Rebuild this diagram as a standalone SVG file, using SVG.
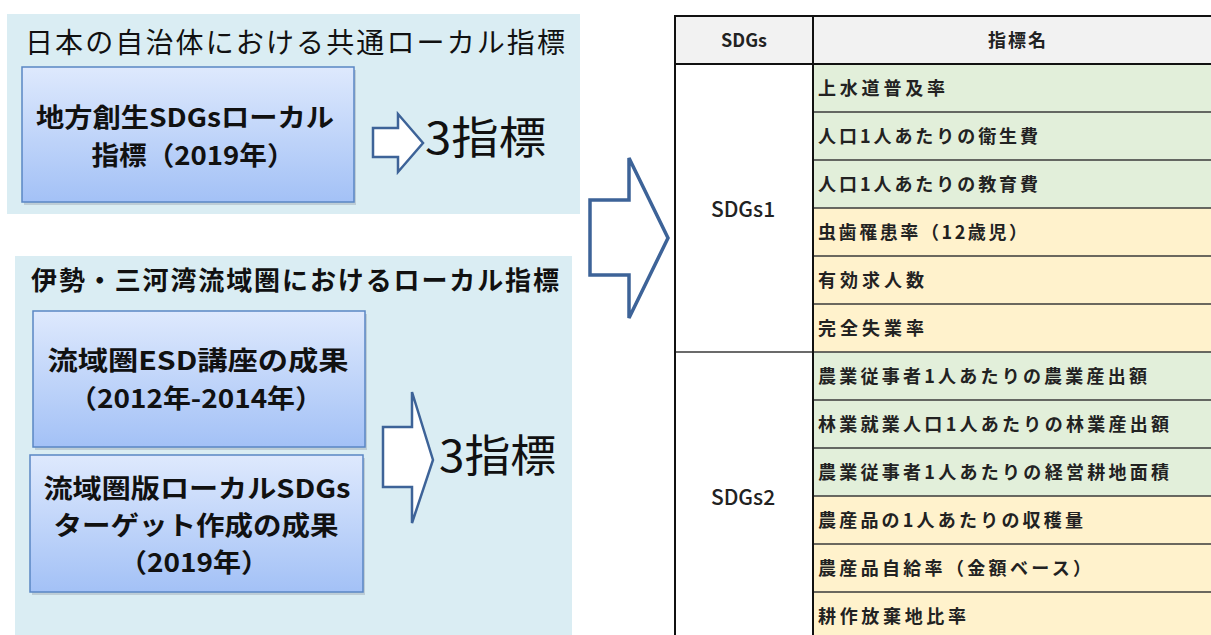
<svg xmlns="http://www.w3.org/2000/svg" width="1211" height="635" viewBox="0 0 1211 635">
<defs>
<linearGradient id="boxg" x1="0" y1="0" x2="0" y2="1">
<stop offset="0" stop-color="#DEE9FD"/>
<stop offset="1" stop-color="#A3C1F6"/>
</linearGradient>
<style>
.panel{fill:#DAEDF3}
.box{fill:url(#boxg);stroke:#5A86C4;stroke-width:1.5}
.shadow{fill:#9AA6B4;opacity:0.45}
.jp{font-family:"Noto Sans CJK JP","Noto Sans",sans-serif;fill:#111}
.bt{font-weight:700;font-size:26px;text-anchor:middle}
.big{font-size:44px;font-weight:400}
.arrow{fill:#fff;stroke:#3D6398;stroke-linejoin:miter}
.hdr{fill:#F2F2F2}
.g{fill:#E2EFDA}
.y{fill:#FFF2CC}
.cell{font-family:"Noto Sans CJK JP","Noto Sans",sans-serif;font-weight:700;font-size:18px;fill:#222}
.th{font-family:"Noto Sans CJK JP","Noto Sans",sans-serif;font-weight:700;font-size:18px;fill:#222;text-anchor:middle}
.sdg{font-family:"Noto Sans CJK JP","Noto Sans",sans-serif;font-weight:500;font-size:21px;fill:#222;text-anchor:middle}
.ln{stroke:#3a3a3a;stroke-width:1.5}
.bd{stroke:#111;stroke-width:2;fill:none}
</style>
</defs>
<rect width="1211" height="635" fill="#fff"/>

<g id="panel-top">
<rect class="panel" x="7" y="14" width="573" height="200"/>
<text class="jp" x="25" y="53" font-size="28" textLength="540" lengthAdjust="spacing">日本の自治体における共通ローカル指標</text>
</g>
<g id="box-chiho">
<rect class="shadow" x="24" y="70" width="332" height="135"/>
<rect class="box" x="22" y="67" width="332" height="135"/>
<text class="jp bt"><tspan x="185" y="127" textLength="298" lengthAdjust="spacingAndGlyphs">地方創生SDGsローカル</tspan><tspan x="193" y="165" textLength="203" lengthAdjust="spacingAndGlyphs">指標（2019年）</tspan></text>
</g>
<g id="result-top">
<text class="jp big" x="425" y="154" textLength="121" lengthAdjust="spacingAndGlyphs">3指標</text>
</g>

<g id="panel-bottom">
<rect class="panel" x="15" y="256" width="557" height="379"/>
<text class="jp" x="31" y="290" font-size="26" font-weight="700" textLength="528" lengthAdjust="spacing">伊勢・三河湾流域圏におけるローカル指標</text>
</g>
<g id="box-esd">
<rect class="shadow" x="35" y="314" width="332" height="136"/>
<rect class="box" x="33" y="311" width="332" height="136"/>
<text class="jp bt"><tspan x="198" y="370" textLength="301" lengthAdjust="spacingAndGlyphs">流域圏ESD講座の成果</tspan><tspan x="196" y="408" textLength="254" lengthAdjust="spacingAndGlyphs">（2012年-2014年）</tspan></text>
</g>
<g id="box-target">
<rect class="shadow" x="32" y="458" width="333" height="137"/>
<rect class="box" x="30" y="455" width="333" height="137"/>
<text class="jp bt"><tspan x="197" y="498" textLength="307" lengthAdjust="spacingAndGlyphs">流域圏版ローカルSDGs</tspan><tspan x="196" y="535" textLength="285" lengthAdjust="spacingAndGlyphs">ターゲット作成の成果</tspan><tspan x="194" y="572" textLength="150" lengthAdjust="spacingAndGlyphs">（2019年）</tspan></text>
</g>
<g id="result-bottom">
<text class="jp big" x="439" y="472" textLength="117" lengthAdjust="spacingAndGlyphs">3指標</text>
</g>

<g id="connectors">
<polygon class="arrow" stroke-width="2.5" points="373,128 398,128 398,114 423,143 398,172 398,157 373,157"/>
<polygon class="arrow" stroke-width="2.5" points="383,427 412,427 412,392 433,460 412,523 412,487 383,487"/>
<polygon class="arrow" stroke-width="3.5" points="590,200 629,200 629,158 668,238 629,318 629,275 590,275"/>
</g>

<g id="table">
<rect class="hdr" x="675" y="16" width="545" height="48"/>
<rect fill="#fff" x="675" y="64" width="138" height="576"/>
<rect class="g" x="813" y="64" width="407" height="144"/>
<rect class="y" x="813" y="208" width="407" height="144"/>
<rect class="g" x="813" y="352" width="407" height="144"/>
<rect class="y" x="813" y="496" width="407" height="144"/>
<g class="ln">
<line x1="813" y1="112" x2="1211" y2="112"/>
<line x1="813" y1="160" x2="1211" y2="160"/>
<line x1="813" y1="208" x2="1211" y2="208"/>
<line x1="813" y1="256" x2="1211" y2="256"/>
<line x1="813" y1="304" x2="1211" y2="304"/>
<line x1="675" y1="352" x2="1211" y2="352"/>
<line x1="813" y1="400" x2="1211" y2="400"/>
<line x1="813" y1="448" x2="1211" y2="448"/>
<line x1="813" y1="496" x2="1211" y2="496"/>
<line x1="813" y1="544" x2="1211" y2="544"/>
<line x1="813" y1="592" x2="1211" y2="592"/>
</g>
<g class="bd">
<line x1="675" y1="16" x2="1211" y2="16"/>
<line x1="675" y1="64" x2="1211" y2="64"/>
<line x1="675" y1="15" x2="675" y2="635"/>
<line x1="813" y1="15" x2="813" y2="635"/>
</g>
<text class="th" x="744" y="47">SDGs</text>
<text class="th" x="1018" y="47" letter-spacing="2">指標名</text>
<text class="sdg" x="743" y="217">SDGs1</text>
<text class="sdg" x="743" y="505">SDGs2</text>
<text class="cell" x="818" y="95" textLength="127" lengthAdjust="spacing">上水道普及率</text>
<text class="cell" x="818" y="143" textLength="220" lengthAdjust="spacing">人口1人あたりの衛生費</text>
<text class="cell" x="818" y="191" textLength="220" lengthAdjust="spacing">人口1人あたりの教育費</text>
<text class="cell" x="818" y="239" textLength="209" lengthAdjust="spacing">虫歯罹患率（12歳児）</text>
<text class="cell" x="818" y="287" textLength="106" lengthAdjust="spacing">有効求人数</text>
<text class="cell" x="818" y="335" textLength="106" lengthAdjust="spacing">完全失業率</text>
<text class="cell" x="818" y="383" textLength="329" lengthAdjust="spacing">農業従事者1人あたりの農業産出額</text>
<text class="cell" x="818" y="431" textLength="351" lengthAdjust="spacing">林業就業人口1人あたりの林業産出額</text>
<text class="cell" x="818" y="479" textLength="351" lengthAdjust="spacing">農業従事者1人あたりの経営耕地面積</text>
<text class="cell" x="818" y="527" textLength="265" lengthAdjust="spacing">農産品の1人あたりの収穫量</text>
<text class="cell" x="818" y="575" textLength="273" lengthAdjust="spacing">農産品自給率（金額ベース）</text>
<text class="cell" x="818" y="623" textLength="148" lengthAdjust="spacing">耕作放棄地比率</text>
</g>
</svg>
